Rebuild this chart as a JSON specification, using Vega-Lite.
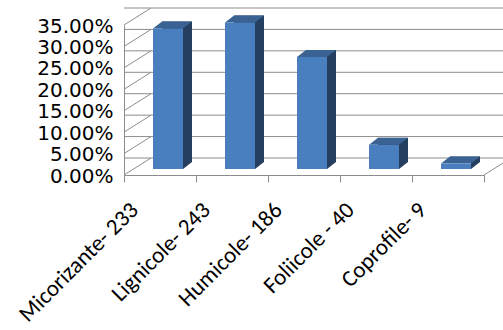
{
  "$schema": "https://vega.github.io/schema/vega-lite/v6.json",
  "width": 360,
  "height": 150,
  "autosize": {"type": "none"},
  "padding": {"left": 124, "top": 25, "right": 19, "bottom": 155},
  "background": "white",
  "config": {
    "view": {"stroke": null},
    "axisY": {"title": null, "format": ".2%", "values": [0, 0.05, 0.1, 0.15, 0.2, 0.25, 0.3, 0.35], "labelOverlap": false, "labelBound": false, "ticks": false, "labelFont": "DejaVu Sans", "labelFontSize": 20, "labelColor": "black", "labelPadding": 11, "labelOffset": 1, "domainColor": "#8c8c8c", "grid": false},
    "axisX": {"title": null, "tickBand": "extent", "labelAngle": -45, "labelAlign": "right", "labelBaseline": "middle", "labelFont": "Carlito, Lato, sans-serif", "labelFontSize": 23, "labelColor": "black", "labelPadding": 24, "labelOffset": -26, "labelOverlap": false, "labelBound": false, "tickSize": 7, "tickColor": "#8c8c8c", "domainColor": "#8c8c8c", "grid": false, "labelLimit": 300}
  },
  "datasets": {
    "fungi": [
      {"cat": "Micorizante- 233", "pct": 0.3277},
      {"cat": "Lignicole- 243", "pct": 0.3418},
      {"cat": "Humicole- 186", "pct": 0.2616},
      {"cat": "Foliicole - 40", "pct": 0.0563},
      {"cat": "Coprofile- 9", "pct": 0.0127}
    ],
    "ticks": [
      {"pct": 0}, {"pct": 0.05}, {"pct": 0.1}, {"pct": 0.15},
      {"pct": 0.2}, {"pct": 0.25}, {"pct": 0.3}, {"pct": 0.35}
    ]
  },
  "layer": [
    {
      "data": {"name": "ticks"},
      "mark": {"type": "rule", "color": "#8c8c8c", "strokeWidth": 1, "xOffset": 27, "x2Offset": 27, "yOffset": -17},
      "encoding": {
        "y": {"field": "pct", "type": "quantitative", "scale": {"domain": [0, 0.35], "nice": false},
              "axis": {"format": ".2%", "values": [0, 0.05, 0.1, 0.15, 0.2, 0.25, 0.3, 0.35], "labelOverlap": false}}
      }
    },
    {
      "data": {"name": "ticks"},
      "mark": {"type": "point", "shape": "M0,0L27,-17", "size": 4, "filled": false, "stroke": "#8c8c8c", "strokeWidth": 1, "opacity": 1},
      "encoding": {
        "x": {"datum": "Micorizante- 233", "type": "nominal", "bandPosition": 0,
              "scale": {"domain": ["Micorizante- 233", "Lignicole- 243", "Humicole- 186", "Foliicole - 40", "Coprofile- 9"], "paddingInner": 0, "paddingOuter": 0}},
        "y": {"field": "pct", "type": "quantitative",
              "axis": {"format": ".2%", "values": [0, 0.05, 0.1, 0.15, 0.2, 0.25, 0.3, 0.35], "labelOverlap": false}}
      }
    },
    {
      "data": {"name": "fungi"},
      "mark": {"type": "point", "shape": "M0,0L27,-17", "size": 4, "filled": false, "stroke": "#8c8c8c", "strokeWidth": 1, "opacity": 1},
      "transform": [{"filter": "datum.cat === 'Coprofile- 9'"}],
      "encoding": {
        "x": {"field": "cat", "type": "nominal", "bandPosition": 1},
        "y": {"datum": 0, "type": "quantitative",
              "axis": {"format": ".2%", "values": [0, 0.05, 0.1, 0.15, 0.2, 0.25, 0.3, 0.35], "labelOverlap": false}}
      }
    },
    {
      "data": {"name": "fungi"},
      "mark": {"type": "bar", "width": 30, "color": "#243f5f", "xOffset": 17, "yOffset": -13, "y2Offset": -13},
      "encoding": {
        "x": {"field": "cat", "type": "nominal", "sort": null},
        "y": {"field": "pct", "type": "quantitative",
              "axis": {"format": ".2%", "values": [0, 0.05, 0.1, 0.15, 0.2, 0.25, 0.3, 0.35], "labelOverlap": false}}
      }
    },
    {
      "data": {"name": "fungi"},
      "mark": {"type": "point", "shape": "M15,0L15,-7L24,-7Z", "size": 4, "filled": true, "color": "#243f5f", "strokeWidth": 0, "opacity": 1, "xOffset": 8, "yOffset": -6},
      "encoding": {
        "x": {"field": "cat", "type": "nominal"},
        "y": {"datum": 0, "type": "quantitative",
              "axis": {"format": ".2%", "values": [0, 0.05, 0.1, 0.15, 0.2, 0.25, 0.3, 0.35], "labelOverlap": false}}
      }
    },
    {
      "data": {"name": "fungi"},
      "mark": {"type": "point", "shape": "M-15,0L15,0L24,-7L-6,-7Z", "size": 4, "filled": true, "color": "#3a6394", "strokeWidth": 0, "opacity": 1, "xOffset": 8, "yOffset": -6},
      "encoding": {
        "x": {"field": "cat", "type": "nominal"},
        "y": {"field": "pct", "type": "quantitative",
              "axis": {"format": ".2%", "values": [0, 0.05, 0.1, 0.15, 0.2, 0.25, 0.3, 0.35], "labelOverlap": false}}
      }
    },
    {
      "data": {"name": "fungi"},
      "mark": {"type": "bar", "width": 30, "color": "#4a7fbf", "xOffset": 8, "yOffset": -6, "y2Offset": -6},
      "encoding": {
        "x": {"field": "cat", "type": "nominal"},
        "y": {"field": "pct", "type": "quantitative",
              "axis": {"format": ".2%", "values": [0, 0.05, 0.1, 0.15, 0.2, 0.25, 0.3, 0.35], "labelOverlap": false}}
      }
    }
  ]
}
